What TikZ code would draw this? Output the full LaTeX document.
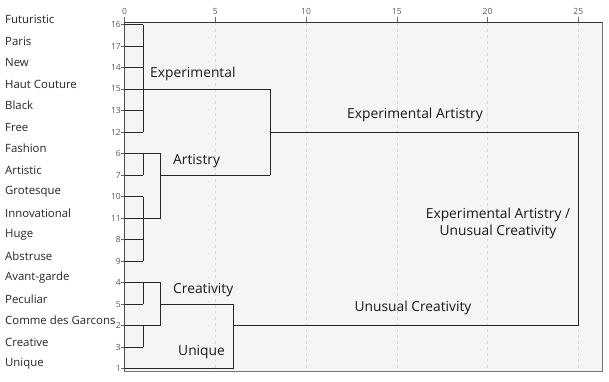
\documentclass[tikz,border=0pt]{standalone}
\usepackage{fontspec}
\setmainfont{Open Sans}
\begin{document}
\begin{tikzpicture}[x=1pt,y=-1pt,
  dline/.style={black!85,line width=0.9pt},
  grid/.style={gray!30,dashed,line width=0.5pt},
  leaflab/.style={anchor=west,inner sep=0pt,font=\fontsize{11.4}{13}\selectfont,text=black!85},
  numlab/.style={anchor=east,inner sep=0pt,font=\fontsize{8.5}{9}\selectfont,text=black!65},
  axlab/.style={anchor=south,inner sep=0pt,font=\fontsize{8.5}{9}\selectfont,text=black!65},
  clab/.style={inner sep=0pt,font=\fontsize{13.8}{17}\selectfont,text=black!90}]
\useasboundingbox (0,0) rectangle (609,381);
\fill[white] (0,0) rectangle (609,381);
% plot frame
\filldraw[fill=black!4,draw=black!55,line width=0.6pt] (124.5,22) rectangle (602,371);
\draw[black!80,line width=0.8pt] (124.5,22) -- (602,22);
% grid and top axis
\foreach \v in {0,5,10,15,20,25}{
  \pgfmathsetmacro{\xx}{124.5+18.15*\v}
  \ifnum\v>0 \draw[grid] (\xx,22.5) -- (\xx,370.5); \fi
  \draw[black!60,line width=0.5pt] (\xx,17) -- (\xx,22);
  \node[axlab] (ax\v) at (\xx,15) {\v};
}
% leaf rows
\foreach \n/\k/\lab in {16/0/Futuristic,17/1/Paris,14/2/New,15/3/Haut Couture,13/4/Black,12/5/Free,6/6/Fashion,7/7/Artistic,10/8/Grotesque,11/9/Innovational,8/10/Huge,9/11/Abstruse,4/12/Avant-garde,5/13/Peculiar,2/14/Comme des Garcons,3/15/Creative,1/16/Unique}{
  \pgfmathsetmacro{\yy}{24.5+21.5*\k}
  \coordinate (r\n) at (124.5,\yy);
  \draw[black!60,line width=0.5pt] (121,\yy) -- (124.5,\yy);
  \node[numlab] (n\n) at (121,\yy) {\n};
  \node[leaflab] (l\n) at (5,\yy-5) {\lab};
}
\draw[black!70,line width=0.8pt] (124.5,22) -- (124.5,371);
% merge levels
\coordinate (xa) at (143,0);
\coordinate (xb) at (160.5,0);
\coordinate (xc) at (233,0);
\coordinate (xd) at (270,0);
\coordinate (xe) at (578,0);
% Experimental
\foreach \n in {16,17,14,13,12}{\draw[dline] (r\n) -- (r\n -| xa);}
\draw[dline] (r15) -- (r15 -| xd);
\draw[dline] (r16 -| xa) -- (r12 -| xa);
% Artistry
\draw[dline] (r6) -- (r6 -| xb);
\draw[dline] (r7) -- (r7 -| xa);
\draw[dline] (r6 -| xa) -- (r7 -| xa);
\foreach \n in {10,8,9}{\draw[dline] (r\n) -- (r\n -| xa);}
\draw[dline] (r11) -- (r11 -| xb);
\draw[dline] (r10 -| xa) -- (r9 -| xa);
\draw[dline] (r6 -| xb) -- (r11 -| xb);
\draw[dline] (r7 -| xb) -- (r7 -| xd);
\draw[dline] (r15 -| xd) -- (r7 -| xd);
\draw[dline] (r12 -| xd) -- (r12 -| xe);
% Creativity / Unique
\draw[dline] (r4) -- (r4 -| xb);
\draw[dline] (r5) -- (r5 -| xa);
\draw[dline] (r4 -| xa) -- (r5 -| xa);
\draw[dline] (r2) -- (r2 -| xb);
\draw[dline] (r3) -- (r3 -| xa);
\draw[dline] (r2 -| xa) -- (r3 -| xa);
\draw[dline] (r4 -| xb) -- (r2 -| xb);
\draw[dline] (r5 -| xb) -- (r5 -| xc);
\draw[dline] (r1) -- (r1 -| xc);
\draw[dline] (r5 -| xc) -- (r1 -| xc);
\draw[dline] (r2 -| xc) -- (r2 -| xe);
% top join
\draw[dline] (r12 -| xe) -- (r2 -| xe);
% cluster labels
\node[clab,anchor=west] (cexp) at (150,74) {Experimental};
\node[clab,anchor=west] (cart) at (173,161) {Artistry};
\node[clab] (cea) at (415,115) {Experimental Artistry};
\node[clab,align=center] (ceauc) at (498,223) {Experimental Artistry /\\Unusual Creativity};
\node[clab,anchor=west] (ccre) at (173,290) {Creativity};
\node[clab] (cuc) at (413,308) {Unusual Creativity};
\node[clab,anchor=west] (cuni) at (178,352) {Unique};
\end{tikzpicture}
\end{document}
